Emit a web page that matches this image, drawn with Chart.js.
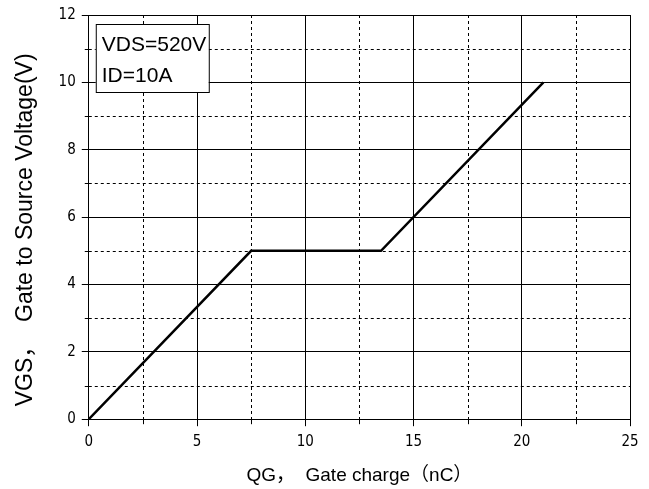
<!DOCTYPE html>
<html>
<head>
<meta charset="utf-8">
<script src="https://cdn.jsdelivr.net/npm/chart.js@4/dist/chart.umd.min.js"></script>
<style>
  html, body { margin: 0; padding: 0; background: #ffffff; }
  #wrap { width: 649px; height: 489px; }
</style>
</head>
<body>
<div id="wrap"><canvas id="chart"></canvas></div>
<script>
// gate charge curve
const gateCharge = [0, 7.5, 13.5, 21];
const gateVoltage = [0, 5, 5, 10];

const xMinorTicks = [2.5, 7.5, 12.5, 17.5, 22.5];
const yMinorTicks = [1, 3, 5, 7, 9, 11];

const conditionLines = ['VDS=520V', 'ID=10A'];

const TICK_FONT = { family: '"DejaVu Sans Condensed", "Liberation Sans Narrow", "Liberation Sans", sans-serif', size: 15 };
const TITLE_FONT = { family: '"Liberation Sans", Arial, "Noto Sans CJK SC", sans-serif', size: 20 };

const minorGrid = {
  id: 'minorGrid',
  beforeDatasetsDraw(chart) {
    const { ctx, chartArea, scales } = chart;
    ctx.save();
    ctx.strokeStyle = '#000000';
    ctx.lineWidth = 1;
    ctx.setLineDash([3, 3]);
    for (const v of xMinorTicks) {
      const px = Math.round(scales.x.getPixelForValue(v)) + 0.5;
      ctx.beginPath();
      ctx.moveTo(px, chartArea.top);
      ctx.lineTo(px, chartArea.bottom);
      ctx.stroke();
    }
    for (const v of yMinorTicks) {
      const py = Math.round(scales.y.getPixelForValue(v)) + 0.5;
      ctx.beginPath();
      ctx.moveTo(chartArea.left, py);
      ctx.lineTo(chartArea.right, py);
      ctx.stroke();
    }
    ctx.setLineDash([]);
    // short minor tick marks outside the axes
    for (const v of xMinorTicks) {
      const px = Math.round(scales.x.getPixelForValue(v)) + 0.5;
      ctx.beginPath();
      ctx.moveTo(px, chartArea.bottom);
      ctx.lineTo(px, chartArea.bottom + 5);
      ctx.stroke();
    }
    for (const v of yMinorTicks) {
      const py = Math.round(scales.y.getPixelForValue(v)) + 0.5;
      ctx.beginPath();
      ctx.moveTo(chartArea.left - 4, py);
      ctx.lineTo(chartArea.left, py);
      ctx.stroke();
    }
    ctx.restore();
  },
};

const conditionBox = {
  id: 'conditionBox',
  afterDatasetsDraw(chart) {
    const { ctx, chartArea } = chart;
    const left = chartArea.left + 7;
    const top = chartArea.top + 9;
    ctx.save();
    ctx.fillStyle = '#ffffff';
    ctx.strokeStyle = '#000000';
    ctx.lineWidth = 1;
    ctx.fillRect(left, top, 113, 68);
    ctx.strokeRect(left + 0.5, top + 0.5, 113, 68);
    ctx.fillStyle = '#000000';
    ctx.font = '21px "Liberation Sans", Arial, sans-serif';
    ctx.textBaseline = 'alphabetic';
    conditionLines.forEach((line, i) => {
      ctx.fillText(line, left + 6, top + 27 + i * 31);
    });
    ctx.restore();
  },
};

new Chart(document.getElementById('chart'), {
  type: 'line',
  data: {
    datasets: [{
      data: gateCharge.map((q, i) => ({ x: q, y: gateVoltage[i] })),
      borderColor: '#000000',
      borderWidth: 2.5,
      pointRadius: 0,
      tension: 0,
      fill: false,
    }],
  },
  plugins: [minorGrid, conditionBox],
  options: {
    responsive: true,
    maintainAspectRatio: false,
    animation: false,
    events: [],
    layout: { padding: { top: 11, right: 19, left: 12, bottom: 2 } },
    plugins: {
      legend: { display: false },
      tooltip: { enabled: false },
    },
    scales: {
      x: {
        type: 'linear',
        min: 0,
        max: 25,
        ticks: {
          stepSize: 5,
          color: '#000000',
          font: TICK_FONT,
          padding: 7,
          maxRotation: 0,
        },
        grid: { color: '#000000', lineWidth: 1, tickLength: 7 },
        border: { color: '#000000', width: 1 },
        title: {
          display: true,
          text: 'QG，  Gate charge（nC）',
          color: '#000000',
          font: { ...TITLE_FONT, size: 19 },
          padding: { top: 6, bottom: 0 },
        },
      },
      y: {
        type: 'linear',
        min: 0,
        max: 12,
        ticks: {
          stepSize: 2,
          color: '#000000',
          font: TICK_FONT,
          padding: 6,
        },
        grid: { color: '#000000', lineWidth: 1, tickLength: 7 },
        border: { color: '#000000', width: 1 },
        title: {
          display: true,
          // trailing spaces push the visible text a little below centre, as in the original
          text: 'VGS，  Gate to Source Voltage(V)    ',
          color: '#000000',
          font: { ...TITLE_FONT, size: 23 },
          padding: { top: 0, bottom: 13 },
        },
      },
    },
  },
});
</script>
</body>
</html>
